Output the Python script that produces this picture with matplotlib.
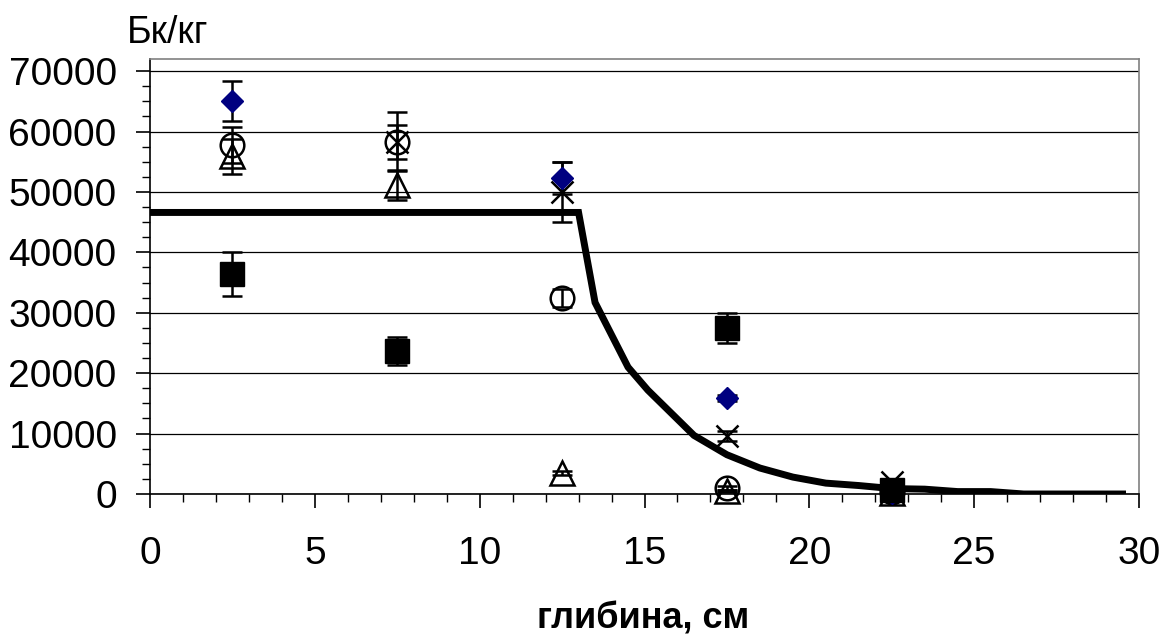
import numpy as np
import matplotlib
matplotlib.use('Agg')
from matplotlib import pyplot as plt
from matplotlib.ticker import MultipleLocator

plt.rcParams['font.family'] = ['Liberation Sans', 'DejaVu Sans']

# глибина шару, см
depth = [2.5, 7.5, 12.5, 17.5, 22.5]

# виміряні активності, Бк/кг (nan - немає точки)
diamond = [65000, np.nan, 52300, 15900, 100]
diamond_err = [3300, np.nan, 2700, 500, 100]
square = [36400, 23700, np.nan, 27500, 700]
square_err = [3600, 2300, np.nan, 2500, 200]
circle = [57800, 58300, 32500, 1000, 300]
circle_err = [3000, 4900, 1500, 300, 100]
triangle = [55900, 51100, 3500, 500, 100]
triangle_err = [2900, 2500, 300, 200, 100]
cross = [np.nan, 58200, 50000, 9600, 2000]
cross_err = [np.nan, 2800, 5000, 900, 200]

# модельна крива
model_x = [0, 13, 13.5, 14.5, 15.1, 16.5, 17.5, 18.5, 19.5, 20.5, 21.5, 22.5,
           23.5, 24.5, 25.5, 26.5, 27.5, 28.5, 29.5]
model_y = [46600, 46600, 31700, 21000, 17200, 9700, 6500, 4300, 2800, 1800, 1400, 900,
           800, 400, 400, 0, 0, 0, 0]

fig = plt.figure(figsize=(11.62, 6.36), dpi=100)
ax = fig.add_axes([150 / 1162, 1 - 494 / 636, (1139 - 150) / 1162, (494 - 59) / 636])

ax.plot(model_x, model_y, color='black', linewidth=5, zorder=3, solid_joinstyle='miter')

common = dict(ecolor='black', elinewidth=1.8, capsize=7.5, capthick=1.8,
              linestyle='none', zorder=4, clip_on=False)
ax.errorbar(depth, triangle, yerr=triangle_err, marker='^', markersize=17,
            markerfacecolor='none', markeredgecolor='black', markeredgewidth=1.8, **common)
ax.errorbar(depth, circle, yerr=circle_err, marker='o', markersize=17,
            markerfacecolor='none', markeredgecolor='black', markeredgewidth=1.8, **common)
ax.errorbar(depth, cross, yerr=cross_err, marker='x', markersize=16,
            markeredgecolor='black', markeredgewidth=1.8, **common)
ax.errorbar(depth, diamond, yerr=diamond_err, marker='D', markersize=11.5,
            markerfacecolor='#000080', markeredgecolor='#000080', **common)
ax.errorbar(depth, square, yerr=square_err, marker='s', markersize=17,
            markerfacecolor='black', markeredgecolor='black', **common)

ax.set_xlim(0, 30)
ax.set_ylim(0, 72000)
ax.set_xticks(range(0, 31, 5))
ax.set_yticks(range(0, 70001, 10000))
ax.xaxis.set_minor_locator(MultipleLocator(1))
ax.yaxis.set_minor_locator(MultipleLocator(2500))
ax.yaxis.grid(True, which='major', color='black', linewidth=0.9)
ax.set_axisbelow(True)

ax.tick_params(axis='both', which='major', direction='out', labelsize=28, width=1.2, color='black')
ax.tick_params(axis='x', which='major', length=10, pad=20)
ax.tick_params(axis='y', which='major', length=10, pad=14)
ax.tick_params(axis='both', which='minor', direction='out', length=6, width=1)

ax.spines['left'].set_color('black')
ax.spines['bottom'].set_color('black')
ax.spines['top'].set_color('#808080')
ax.spines['right'].set_color('#808080')
for s in ax.spines.values():
    s.set_linewidth(1.2)

fig.text(127 / 1162, 1 - 43 / 636, 'Бк/кг', fontsize=27, va='baseline', ha='left')
fig.text(643 / 1162, 1 - 628 / 636, 'глибина, см', fontsize=26, fontweight='bold',
         va='baseline', ha='center')

fig.savefig('out.png', dpi=100)
